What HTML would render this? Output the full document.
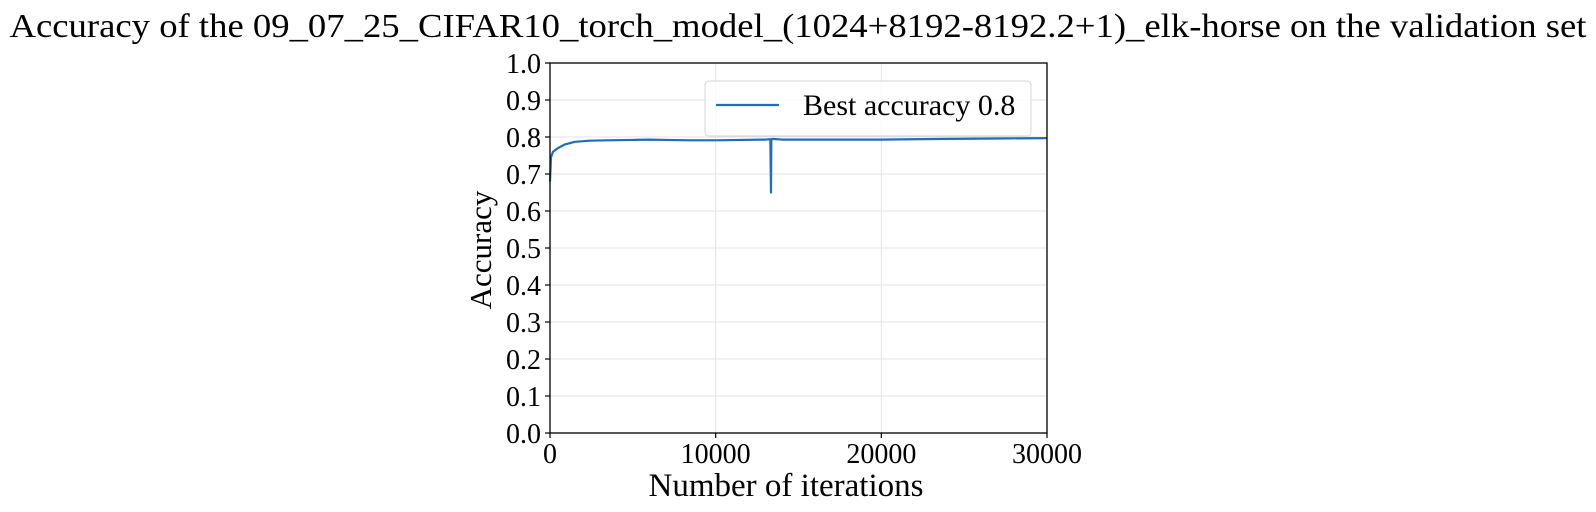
<!DOCTYPE html>
<html><head><meta charset="utf-8">
<style>
html,body{margin:0;padding:0;background:#fff;}
svg{display:block;font-family:"Liberation Serif",serif;}
</style></head>
<body>
<svg id="chart" width="1596" height="512" viewBox="0 0 1596 512">
<text x="798" y="37" font-size="34" text-anchor="middle" textLength="1577" lengthAdjust="spacingAndGlyphs">Accuracy of the 09_07_25_CIFAR10_torch_model_(1024+8192-8192.2+1)_elk-horse on the validation set</text>
<g id="grid"></g>
<g id="ticks"></g>
<path id="series" fill="none" stroke="#1f6fb8" stroke-width="2.2" stroke-linejoin="round"></path>
<rect x="550" y="63" width="497" height="370" fill="none" stroke="#000" stroke-width="1.3"></rect>
<g>
<rect x="705" y="81" width="326" height="55" rx="4" fill="#fff" fill-opacity="0.8" stroke="#d6d6d6"></rect>
<line x1="716" y1="105" x2="779" y2="105" stroke="#1f6fb8" stroke-width="2.2"></line>
<text x="803" y="115" font-size="30">Best accuracy 0.8</text>
</g>
<text x="786" y="496" font-size="33" text-anchor="middle">Number of iterations</text>
<text transform="translate(491,250) rotate(-90)" font-size="31" text-anchor="middle">Accuracy</text>
</svg>
<script>
const xTicks=[0,10000,20000,30000];
const yTicks=[0,0.1,0.2,0.3,0.4,0.5,0.6,0.7,0.8,0.9,1.0];
const iters=[0,60,180,480,900,1500,2400,3500,5000,6000,7000,8500,10000,11500,13000,13300,13340,13360,13400,14000,16000,20000,24000,27000,30000];
const acc=[0.68,0.745,0.76,0.77,0.78,0.787,0.790,0.791,0.792,0.793,0.792,0.791,0.791,0.792,0.793,0.794,0.650,0.793,0.795,0.793,0.793,0.793,0.795,0.796,0.797];
const L=550,R=1047,T=63,B=433;
const xs=v=>L+(v-0)/(30000-0)*(R-L);
const ys=v=>B-(v-0)/(1-0)*(B-T);
const NS='http://www.w3.org/2000/svg';
const grid=document.getElementById('grid'),ticks=document.getElementById('ticks');
function mk(tag,attrs,parent){const e=document.createElementNS(NS,tag);for(const k in attrs)e.setAttribute(k,attrs[k]);parent.appendChild(e);return e;}
xTicks.forEach(t=>{
  const x=xs(t);
  const g=mk('line',{x1:x,y1:T,x2:x,y2:B,stroke:'#e3e3e3','stroke-width':1},grid);
  
  
  const tk=mk('line',{x1:x,y1:B,x2:x,y2:B+5,stroke:'#000','stroke-width':1.2},ticks);
  
  
  const lb=mk('text',{x:x,y:463,'font-size':28,'text-anchor':'middle'},ticks);
  lb.textContent=String(t);
  
  
});
yTicks.forEach(t=>{
  const y=ys(t);
  const g=mk('line',{x1:L,y1:y,x2:R,y2:y,stroke:'#e3e3e3','stroke-width':1},grid);
  
  
  const tk=mk('line',{x1:L-5,y1:y,x2:L,y2:y,stroke:'#000','stroke-width':1.2},ticks);
  
  
  const lb=mk('text',{x:L-9,y:y+10,'font-size':28,'text-anchor':'end'},ticks);
  lb.textContent=t.toFixed(1);
  
  
});
document.getElementById('series').setAttribute('d',iters.map((v,i)=>(i?'L':'M')+xs(v).toFixed(2)+','+ys(acc[i]).toFixed(2)).join(' '));
</script>
</body></html>
